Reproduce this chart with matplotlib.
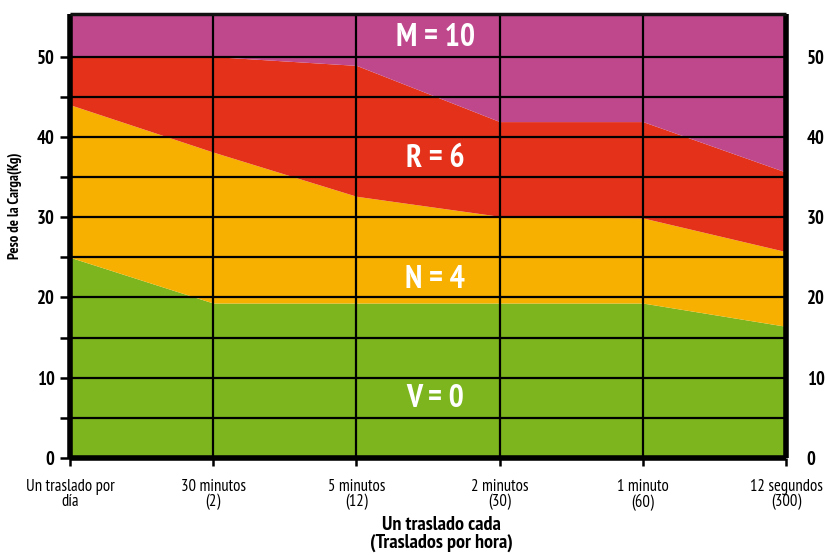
import matplotlib
matplotlib.use("Agg")
import matplotlib.pyplot as plt
import numpy as np

categories = ["Un traslado por\ndía", "30 minutos\n(2)", "5 minutos\n(12)",
              "2 minutos\n(30)", "1 minuto\n(60)", "12 segundos\n(300)"]
green_top = [25.0, 19.3, 19.3, 19.3, 19.3, 16.4]
yellow_top = [44.0, 38.1, 32.6, 30.1, 29.9, 25.7]
red_top = [50.0, 50.0, 48.9, 41.9, 41.9, 35.6]
chart_top = 55.3
band_labels = ["V = 0", "N = 4", "R = 6", "M = 10"]
band_colors = ["#7DB51E", "#F8B000", "#E4321A", "#BF488D"]
y_ticks = [0, 10, 20, 30, 40, 50]

FAM = ["PT Sans Narrow", "DejaVu Sans"]

fig = plt.figure(figsize=(8.27, 5.55), dpi=100)
ax = fig.add_axes([70/827, 1-458/555, (786-70)/827, (458-14)/555])

x = np.arange(len(categories))
top_arr = np.full(len(categories), chart_top)
bounds = [np.zeros(len(categories)), np.array(green_top), np.array(yellow_top),
          np.array(red_top), top_arr]
for i in range(4):
    ax.fill_between(x, bounds[i], bounds[i+1], color=band_colors[i], lw=0, zorder=1)

ax.set_xlim(0, len(categories)-1)
ax.set_ylim(0, chart_top)

for yv in range(5, 55, 5):
    ax.axhline(yv, color="black", lw=1.6, zorder=2)
for xv in x[1:-1]:
    ax.axvline(xv, color="black", lw=1.6, zorder=2)

for s in ["left", "bottom", "right"]:
    ax.spines[s].set_linewidth(4)
ax.spines["top"].set_linewidth(2.5)
ax.spines["top"].set_color("#111111")
for s in ax.spines.values():
    s.set_zorder(5)
    s.set_capstyle("butt")

ax.set_xticks(x)
ax.set_xticklabels(categories, family=FAM, fontsize=12, linespacing=0.95)
ax.tick_params(axis="x", length=6, width=1.8, pad=9, direction="out")

ax.set_yticks(np.arange(0, 55, 5))
ax.set_yticklabels([str(v) if v in y_ticks else "" for v in range(0, 55, 5)],
                   family=FAM, fontsize=13.5, fontweight="bold")
ax.tick_params(axis="y", length=7, width=1.8, pad=4, direction="out")

ax2 = ax.twinx()
ax2.set_ylim(0, chart_top)
ax2.set_yticks(y_ticks)
ax2.set_yticklabels([str(v) for v in y_ticks], family=FAM,
                    fontsize=13.5, fontweight="bold")
ax2.tick_params(axis="y", length=0, pad=15)
for s in ax2.spines.values():
    s.set_visible(False)

label_pos = [7.4, 22.2, 37.2, 52.3]
for lab, yp in zip(band_labels, label_pos):
    ax.text(2.55, yp, lab, color="white", fontsize=23, fontweight="bold",
            family=FAM, ha="center", va="center", zorder=3)

fig.text(441/827, 1-534/555, "Un traslado cada\n(Traslados por hora)", ha="center",
         va="center", fontsize=14.5, fontweight="bold", family=FAM,
         linespacing=1.05)
fig.text(15/827, 1-206/555, "Peso de la Carga(Kg)", rotation=90, ha="center",
         va="center", fontsize=10.5, fontweight="bold", family=FAM)

fig.savefig("out.png", dpi=100)
